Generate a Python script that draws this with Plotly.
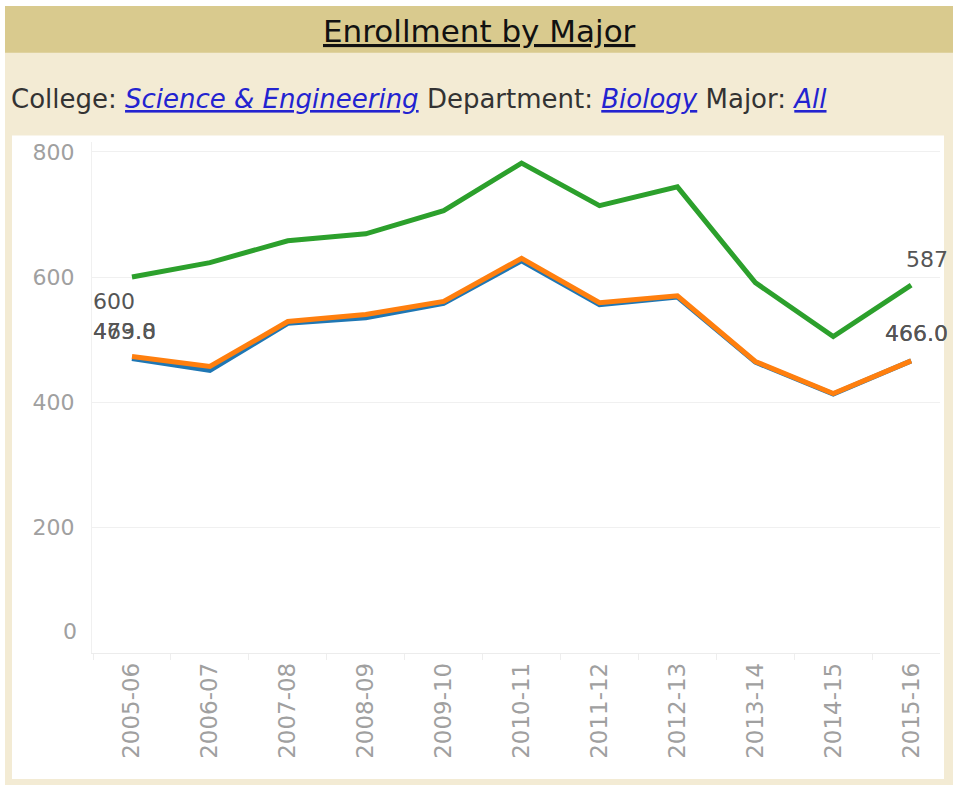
import plotly.graph_objects as go

W, H = 953, 798      # taller than the window; the overflow is clipped at 785

years = ["2005-06", "2006-07", "2007-08", "2008-09", "2009-10", "2010-11",
         "2011-12", "2012-13", "2013-14", "2014-15", "2015-16"]
blue_vals = [469.8, 451, 526, 535, 558, 626, 556, 568, 464, 413, 466.0]
orange_vals = [473.0, 457, 529, 540, 561, 630, 559, 570, 465, 414, 466.0]
green_vals = [600, 623, 658, 669, 706, 782, 714, 744, 591, 505, 587]
y_ticks = [0, 200, 400, 600, 800]
y_ticktext = ["", "200", "400", "600", "800"]

blue_c, orange_c, green_c = "#1f77b4", "#ff7f0e", "#2ca02c"

fig = go.Figure()
for vals, col in [(blue_vals, blue_c), (orange_vals, orange_c), (green_vals, green_c)]:
    fig.add_trace(go.Scatter(x=years, y=vals, mode="lines",
                             line=dict(color=col, width=5), hoverinfo="x+y",
                             showlegend=False))

def px(xp):
    return xp / W

def py(yp):
    return 1 - yp / H

shapes = [
    dict(type="rect", xref="paper", yref="paper", x0=px(5), x1=1, y0=0, y1=py(3),
         fillcolor="#f3ebd4", line_width=0, layer="below"),
    dict(type="rect", xref="paper", yref="paper", x0=px(5), x1=1, y0=py(50), y1=py(3),
         fillcolor="#d9ca8e", line_width=0, layer="below"),
    dict(type="rect", xref="paper", yref="paper", x0=px(12), x1=px(944), y0=py(779), y1=py(133),
         fillcolor="#ffffff", line_width=0, layer="below"),
]

lab_font = dict(family="DejaVu Sans", size=22, color="#555555")
tick_font = dict(family="DejaVu Sans", size=22, color="#a0a0a0")
annotations = [
    dict(text="<u>Enrollment by Major</u>", xref="paper", yref="paper",
         x=px(480), y=py(28), xanchor="center", yanchor="middle", showarrow=False,
         font=dict(family="DejaVu Sans", size=31, color="#111111")),
    dict(text="College: <span style='color:#2323d0'><i><u>Science &amp; Engineering</u></i></span>"
              " Department: <span style='color:#2323d0'><i><u>Biology</u></i></span>"
              " Major: <span style='color:#2323d0'><i><u>All</u></i></span>",
         xref="paper", yref="paper", x=px(9), y=py(96), xanchor="left", yanchor="middle",
         showarrow=False, font=dict(family="DejaVu Sans", size=26, color="#333333")),
    # bottom y tick label, lifted inside the plot like the reference
    dict(text=str(y_ticks[0]), xref="paper", yref="y", x=px(79), y=y_ticks[0],
         xanchor="right", yanchor="middle", yshift=21, showarrow=False, font=tick_font),
    # start labels
    dict(text=str(green_vals[0]), x=years[0], y=green_vals[0], xref="x", yref="y",
         xanchor="left", yanchor="middle", xshift=-41, yshift=-24, showarrow=False, font=lab_font),
    dict(text=f"{blue_vals[0]:.1f}", x=years[0], y=blue_vals[0], xref="x", yref="y",
         xanchor="left", yanchor="middle", xshift=-41, yshift=27, showarrow=False, font=lab_font),
    dict(text=f"{orange_vals[0]:.1f}", x=years[0], y=orange_vals[0], xref="x", yref="y",
         xanchor="left", yanchor="middle", xshift=-41, yshift=25, showarrow=False, font=lab_font),
    # end labels
    dict(text=str(green_vals[-1]), x=years[-1], y=green_vals[-1], xref="x", yref="y",
         xanchor="right", yanchor="middle", xshift=39, yshift=26, showarrow=False, font=lab_font),
    dict(text=f"{blue_vals[-1]:.1f}", x=years[-1], y=blue_vals[-1], xref="x", yref="y",
         xanchor="right", yanchor="middle", xshift=39, yshift=27, showarrow=False, font=lab_font),
    dict(text=f"{orange_vals[-1]:.1f}", x=years[-1], y=orange_vals[-1], xref="x", yref="y",
         xanchor="right", yanchor="middle", xshift=39, yshift=27, showarrow=False, font=lab_font),
]

fig.update_layout(
    width=W, height=H, autosize=False,
    margin=dict(l=0, r=0, t=0, b=0),
    paper_bgcolor="#ffffff", plot_bgcolor="rgba(0,0,0,0)",
    shapes=shapes, annotations=annotations,
    xaxis=dict(domain=[px(92), px(940)], range=[-0.513, 10.37], type="category",
               tickangle=-90, tickfont=dict(family="DejaVu Sans", size=23, color="#a0a0a0"),
               showgrid=False,
               showline=True, linecolor="#ececec", linewidth=1,
               ticks="outside", tickson="boundaries", ticklen=6, tickcolor="#eeeeee",
               zeroline=False, fixedrange=True),
    yaxis=dict(domain=[py(652), py(140)], range=[0, 815], tickvals=y_ticks, ticktext=y_ticktext,
               tickfont=tick_font, showgrid=True, gridcolor="#f0f0f0", gridwidth=1,
               showline=True, linecolor="#f0f0f0", zeroline=False,
               ticks="", ticklabelstandoff=12, fixedrange=True),
)

post = ("var s=document.createElement('style');"
        "s.innerHTML='html,body{margin:0!important;padding:0!important;overflow:hidden!important;}';"
        "document.head.appendChild(s);")
fig.write_html("out.html", post_script=post, config={"displayModeBar": False})
